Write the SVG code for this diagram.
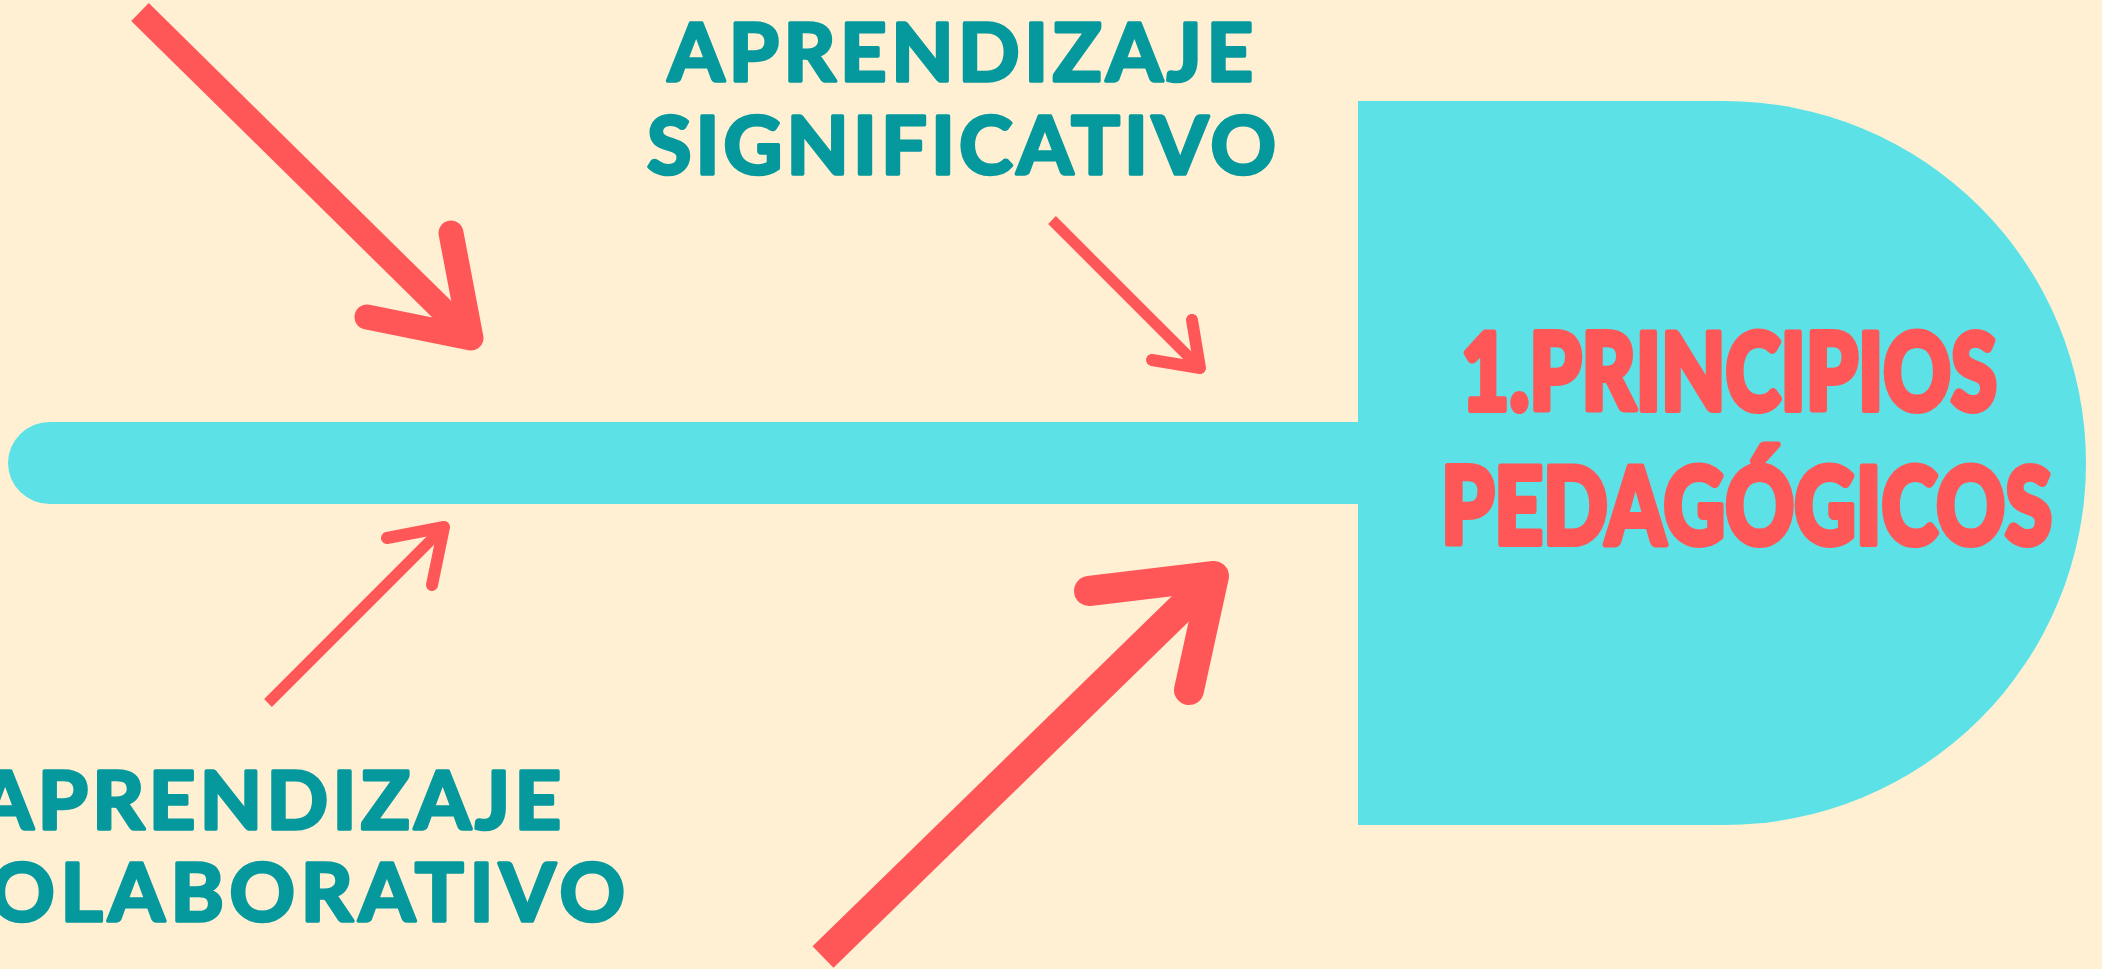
<svg xmlns="http://www.w3.org/2000/svg" width="2102" height="969" viewBox="0 0 2102 969">
  <style>
    .bg { fill: #FFF0D4; }
    .shape { fill: #5CE1E6; }
    .label { fill: #05989D; stroke: #05989D; stroke-width: 3.5; stroke-linejoin: round; font-family: "Lato", "Inter", "Liberation Sans", sans-serif; font-weight: 700; font-size: 81px; }
    .title { fill: #FF5757; stroke: #FF5757; stroke-width: 6; stroke-linejoin: round; font-family: "Lato", "Inter", "Liberation Sans", sans-serif; font-weight: 900; font-size: 106px; }
    .shaft { fill: none; stroke: #FF5757; stroke-linecap: butt; }
    .head { fill: none; stroke: #FF5757; stroke-linecap: round; stroke-linejoin: round; }
  </style>
  <rect class="bg" x="0" y="0" width="2102" height="969"/>

  <g id="spine">
    <rect class="shape" x="8" y="422" width="1400" height="82" rx="42" ry="41"/>
  </g>

  <g id="head-node">
    <path class="shape" d="M1358,101 H1724 A362,362 0 0 1 1724,825 H1358 Z"/>
    <text class="title" x="1461" y="410" textLength="536" lengthAdjust="spacingAndGlyphs">1.PRINCIPIOS</text>
    <text class="title" x="1441" y="544" textLength="611" lengthAdjust="spacingAndGlyphs">PEDAGÓGICOS</text>
  </g>

  <g id="label-significativo">
    <text class="label" x="668" y="81" textLength="585">APRENDIZAJE</text>
    <text class="label" x="647" y="174" textLength="629">SIGNIFICATIVO</text>
  </g>

  <g id="label-colaborativo">
    <text class="label" x="-23" y="829" textLength="584">APRENDIZAJE</text>
    <text class="label" x="-69" y="921" textLength="694">COLABORATIVO</text>
  </g>

  <g id="connectors">
    <g id="arrow-top-left">
      <path class="shaft" stroke-width="25" d="M140,12 L471,338"/>
      <path class="head" stroke-width="25" d="M367,317 L471,338 L451,233"/>
    </g>
    <g id="arrow-significativo">
      <path class="shaft" stroke-width="11" d="M1052,220 L1200,368"/>
      <path class="head" stroke-width="12" d="M1152,360 L1200,368 L1192,320"/>
    </g>
    <g id="arrow-colaborativo">
      <path class="shaft" stroke-width="11" d="M268,703 L444,527"/>
      <path class="head" stroke-width="12" d="M387,538 L444,527 L432,585"/>
    </g>
    <g id="arrow-bottom">
      <path class="shaft" stroke-width="30" d="M823,957 L1214,576"/>
      <path class="head" stroke-width="30" d="M1089,591 L1214,576 L1189,690"/>
    </g>
  </g>
</svg>
